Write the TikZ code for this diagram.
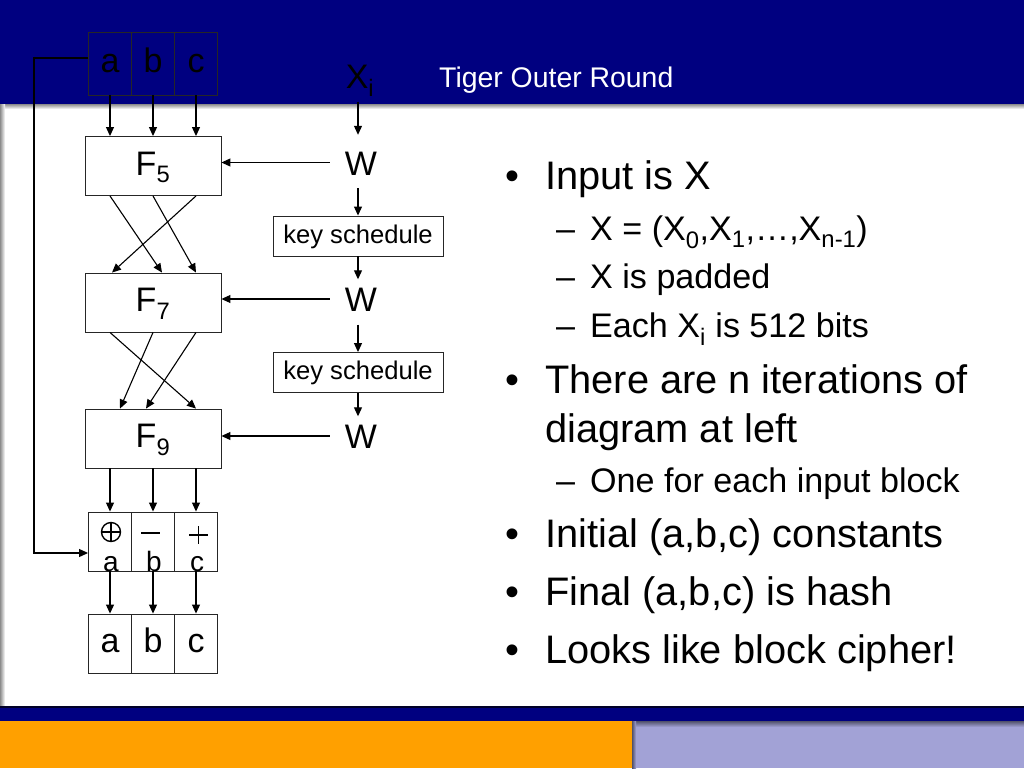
\documentclass[tikz,border=0pt]{standalone}
\usepackage{fontspec}
\setmainfont{Liberation Sans}
\usetikzlibrary{arrows.meta,calc}
\definecolor{navy}{RGB}{0,0,128}
\definecolor{slideorange}{RGB}{255,160,0}
\definecolor{lav}{RGB}{162,162,214}
\newcommand\fmain{\fontsize{39.8}{44}\selectfont}
\newcommand\fsub{\fontsize{34.1}{38}\selectfont}
\newcommand\ftitle{\fontsize{28.4}{30}\selectfont}
\newcommand\fdiag{\fontsize{34}{36}\selectfont}
\newcommand\fks{\fontsize{25.6}{28}\selectfont}
\newcommand\fop{\fontsize{28}{28}\selectfont}
\begin{document}
\begin{tikzpicture}[x=1pt,y=-1pt,
  arr/.style={line width=1.1pt, -{Triangle[length=9pt,width=8pt]}},
  fbx/.style={draw=black!85, line width=0.9pt, minimum width=136pt, minimum height=59pt, inner sep=0pt, font=\fdiag, text height=18pt, text depth=0pt},
  cell/.style={draw=black!85, line width=0.9pt, minimum width=43pt, minimum height=59pt, inner sep=0pt, font=\fdiag, text height=17pt, text depth=0pt},
  wnode/.style={inner xsep=15pt, inner ysep=7pt, font=\fdiag, text height=25pt, text depth=0pt},
  ks/.style={draw=black!85, line width=0.9pt, minimum width=170pt, minimum height=40pt, inner sep=0pt, font=\fks, text height=14pt, text depth=0pt},
  txt/.style={anchor=base west, inner sep=0pt},
  bul/.style={anchor=base, inner sep=0pt, font=\fmain},
  symline/.style={line width=1.4pt},
]
\useasboundingbox (0,0) rectangle (1024,768);
% background
\fill[white] (0,0) rectangle (1024,768);
\fill[navy] (0,0) rectangle (1024,104);
\shade[top color=black!45, bottom color=white] (0,104) rectangle (1024,109);
\shade[left color=black!45, right color=white] (0,104) rectangle (5,707);
\fill[navy] (0,707) rectangle (1024,721);
\fill[black!70!navy] (0,706) rectangle (1024,708);
\fill[slideorange] (0,721) rectangle (632,768);
\fill[lav] (632,721) rectangle (1024,768);
\shade[top color=black!50!lav, bottom color=lav] (632,721) rectangle (1024,727);
\shade[left color=black!50!lav, right color=lav] (632,721) rectangle (636,768);

% title
\node[txt, text=white, font=\ftitle] (title) at (439,87) {Tiger Outer Round};

% top a b c
\node[cell, minimum height=63pt] (ta) at (110,63.5) {a};
\node[cell, minimum height=63pt] (tb) at (153,63.5) {b};
\node[cell, minimum height=63pt] (tc) at (196,63.5) {c};

% F boxes
\node[fbx] (F5) at (153,166) {F\textsubscript{5}};
\node[fbx] (F7) at (153,302.5) {F\textsubscript{7}};
\node[fbx] (F9) at (153,438.5) {F\textsubscript{9}};

% operation row
\node[cell] (oa) at (110,541.5) {};
\node[cell] (ob) at (153,541.5) {};
\node[cell] (oc) at (196,541.5) {};
% xor symbol
\node[circle, draw, symline, minimum size=19pt, inner sep=0pt] (sa) at (111,532) {};
\draw[symline] (sa.north) -- (sa.south) (sa.west) -- (sa.east);
% minus symbol
\draw[symline] (141,533) -- (160,533);
% plus symbol
\draw[symline] (189,535) -- (208,535) (198.5,526) -- (198.5,544);
\node[anchor=base, inner sep=0pt, font=\fop] (la) at (111,571) {a};
\node[anchor=base, inner sep=0pt, font=\fop] (lb) at (154,571) {b};
\node[anchor=base, inner sep=0pt, font=\fop] (lc) at (197,571) {c};

% bottom a b c
\node[cell] (ba) at (110,643.5) {a};
\node[cell] (bb) at (153,643.5) {b};
\node[cell] (bc) at (196,643.5) {c};

% right column
\node[anchor=base, font=\fdiag, inner sep=5pt] (xi) at (360,88) {X\textsubscript{i}};
\node[wnode] (w1) at (361,162.5) {W};
\node[ks] (k1) at (358,236) {key schedule};
\node[wnode] (w2) at (361,299) {W};
\node[ks] (k2) at (358,372.5) {key schedule};
\node[wnode] (w3) at (361,436) {W};

% arrows: top to F5
\draw[arr] (ta.south) -- (ta.south |- F5.north);
\draw[arr] (tb.south) -- (tb.south |- F5.north);
\draw[arr] (tc.south) -- (tc.south |- F5.north);
% F5 to F7
\draw[arr] ([xshift=-43pt]F5.south) -- ([xshift=9pt]F7.north);
\draw[arr] (F5.south) -- ([xshift=43pt]F7.north);
\draw[arr] ([xshift=43pt]F5.south) -- ([xshift=-41pt]F7.north);
% F7 to F9
\draw[arr] ([xshift=-43pt]F7.south) -- ([xshift=43pt]F9.north);
\draw[arr] (F7.south) -- ([xshift=-33pt]F9.north);
\draw[arr] ([xshift=43pt]F7.south) -- ([xshift=-7pt]F9.north);
% F9 to ops
\draw[arr] (F9.south -| oa) -- (oa.north);
\draw[arr] (F9.south -| ob) -- (ob.north);
\draw[arr] (F9.south -| oc) -- (oc.north);
% ops to bottom
\draw[arr] (oa.south) -- (ba.north);
\draw[arr] (ob.south) -- (bb.north);
\draw[arr] (oc.south) -- (bc.north);
% feedback
\coordinate (fbt) at (34,58);
\coordinate (fbb) at (34,553);
\draw[arr] (ta.west |- fbt) -- (fbt) -- (fbb) -- (fbb -| oa.west);

% W column
\draw[arr, shorten >=8pt] (xi.south -| k1) -- (w1.north -| k1);
\draw[arr] (w1.west) -- (w1.west -| F5.east);
\draw[arr, shorten <=6pt] (w1.south -| k1) -- (k1.north);
\draw[arr] (k1.south) -- (w2.north -| k1);
\draw[arr] (w2.west) -- (w2.west -| F7.east);
\draw[arr, shorten <=6pt] (w2.south -| k2) -- (k2.north);
\draw[arr] (k2.south) -- (w3.north -| k2);
\draw[arr] (w3.west) -- (w3.west -| F9.east);

% bullet text
\node[bul] (bu1) at (512,189) {•};
\node[txt, font=\fmain] (t1) at (545,189) {Input is X};
\node[txt, font=\fsub] (d1) at (556,240) {–};
\node[txt, font=\fsub] (t2) at (590,240) {X = (X\textsubscript{0},X\textsubscript{1},…,X\textsubscript{n-1})};
\node[txt, font=\fsub] (d2) at (556,288) {–};
\node[txt, font=\fsub] (t3) at (590,288) {X is padded};
\node[txt, font=\fsub] (d3) at (556,337) {–};
\node[txt, font=\fsub] (t4) at (590,337) {Each X\textsubscript{i} is 512 bits};
\node[bul] (bu2) at (512,393) {•};
\node[txt, font=\fmain] (t5) at (545,393) {There are n iterations of};
\node[txt, font=\fmain] (t6) at (545,442) {diagram at left};
\node[txt, font=\fsub] (d4) at (556,492) {–};
\node[txt, font=\fsub] (t7) at (590,492) {One for each input block};
\node[bul] (bu3) at (512,547) {•};
\node[txt, font=\fmain] (t8) at (545,547) {Initial (a,b,c) constants};
\node[bul] (bu4) at (512,605) {•};
\node[txt, font=\fmain] (t9) at (545,605) {Final (a,b,c) is hash};
\node[bul] (bu5) at (512,663) {•};
\node[txt, font=\fmain] (t10) at (545,663) {Looks like block cipher!};
\end{tikzpicture}
\end{document}
